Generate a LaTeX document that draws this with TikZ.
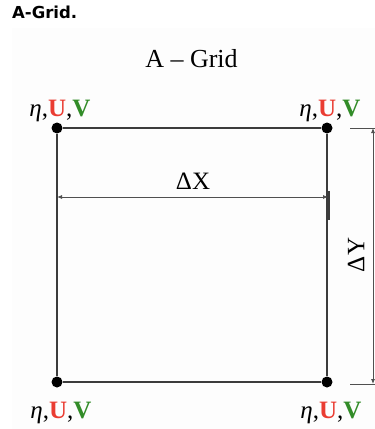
\documentclass[tikz,border=0pt]{standalone}
\usepackage{fontspec}
\setmainfont{Liberation Serif}
\newfontfamily\headfont{DejaVu Sans}
\usetikzlibrary{arrows.meta,positioning}
\definecolor{gridred}{RGB}{234,60,50}
\definecolor{gridgreen}{RGB}{50,140,40}
\definecolor{edgegray}{RGB}{60,60,60}
\definecolor{dimgray}{RGB}{80,80,80}
\newcommand{\etauv}{\textit{η},\textcolor{gridred}{\textbf{U}},\textcolor{gridgreen}{\textbf{V}}}

\begin{document}
\begin{tikzpicture}[x=1pt,y=-1pt,
  gridpt/.style={circle,fill=black,inner sep=0pt,minimum size=11pt},
  varlabel/.style={font=\fontsize{25}{27}\selectfont,anchor=base,inner sep=0pt},
  dimlabel/.style={font=\fontsize{25}{28}\selectfont,inner sep=0pt},
  cell/.style={draw=edgegray,line width=1.6pt},
  dimline/.style={draw=dimgray,line width=0.8pt},
  dimarrow/.style={dimline,{Latex[length=5pt,width=4pt]}-{Latex[length=5pt,width=4pt]}}
]
  \useasboundingbox (0,0) rectangle (375,429);
  \fill[black!0.7] (12,28) rectangle (375,429);

  % Headings
  \node[font=\headfont\bfseries\fontsize{16.5}{18}\selectfont,anchor=base west,inner sep=0pt] (head) at (12,18) {A-Grid.};
  \node[font=\fontsize{26}{28}\selectfont,anchor=base,inner sep=0pt] (title) at (191.5,67) {A – Grid};

  % Grid points
  \node[gridpt] (nw) at (57,128) {};
  \node[gridpt] (ne) at (327,128) {};
  \node[gridpt] (sw) at (57,382) {};
  \node[gridpt] (se) at (327,382) {};
  \draw[cell] (nw) -- (ne) -- (se) -- (sw) -- (nw);

  % Variables
  \node[varlabel] (nwlab) at (60,116) {\etauv};
  \node[varlabel] (nelab) at (330,116) {\etauv};
  \node[varlabel] (swlab) at (61,418) {\etauv};
  \node[varlabel] (selab) at (331,418) {\etauv};

  % Delta X
  \coordinate (dxl) at (57,197);
  \coordinate (dxr) at (328,197);
  \draw[dimarrow] (dxl) -- (dxr);
  \draw[line width=1.4pt,edgegray] (329,191) -- (329,220);
  \node[dimlabel,anchor=base] (dx) at (193,189) {ΔX};

  % Delta Y
  \coordinate (dyt) at (373,128);
  \coordinate (dyb) at (373,384);
  \draw[dimline] (350,128) -- (375,128);
  \draw[dimline] (350,384) -- (375,384);
  \draw[dimarrow] (dyt) -- (dyb);
  \node[dimlabel,rotate=90] (dy) at (356,255) {ΔY};
\end{tikzpicture}
\end{document}
